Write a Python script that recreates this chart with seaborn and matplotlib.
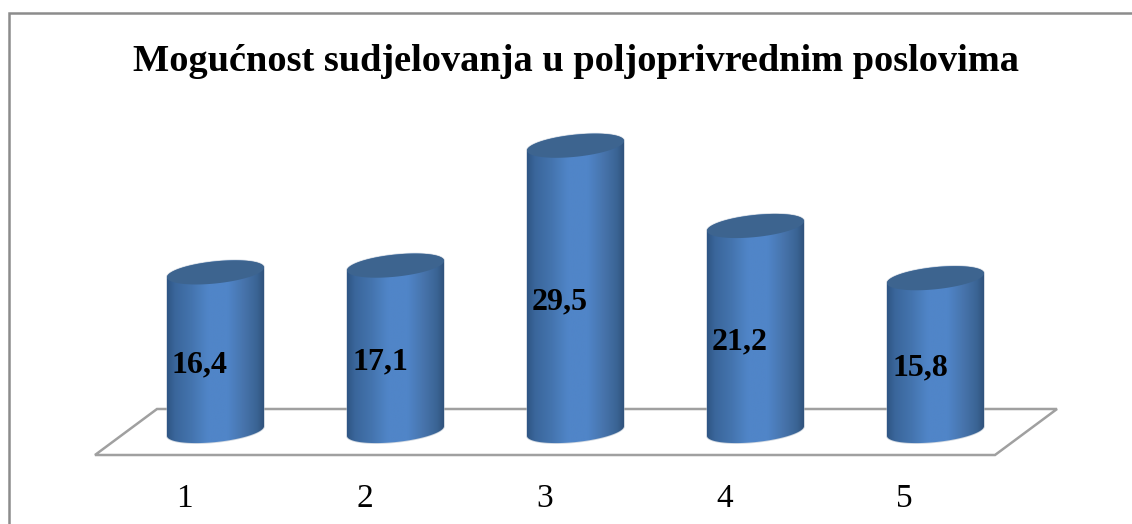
import numpy as np
import pandas as pd
import seaborn as sns
import matplotlib
matplotlib.use("Agg")
import matplotlib.pyplot as plt
from matplotlib.colors import LinearSegmentedColormap
from matplotlib.lines import Line2D
from matplotlib.patches import PathPatch, Rectangle, Polygon
from matplotlib.path import Path
from matplotlib.transforms import IdentityTransform, ScaledTranslation

categories = ["1", "2", "3", "4", "5"]
values = [16.4, 17.1, 29.5, 21.2, 15.8]
value_labels = ["16,4", "17,1", "29,5", "21,2", "15,8"]
title = "Mogućnost sudjelovanja u poljoprivrednim poslovima"

W, H = 1132, 524
sns.set_theme(style="white")
plt.rcParams["font.family"] = ["Liberation Serif", "DejaVu Serif"]

fig = plt.figure(figsize=(W / 100, H / 100), dpi=100, facecolor="white")
# axes box in pixels: x 95..1057, y 100..455 (from top)
ax = fig.add_axes([95 / W, (H - 455) / H, (1057 - 95) / W, 355 / H])
ax.patch.set_alpha(0)

df = pd.DataFrame({"category": categories, "value": values})
sns.barplot(data=df, x="category", y="value", order=categories, width=0.539,
            color="#4A7DBB", saturation=1, ax=ax, zorder=2)

px_per_unit = 9.67
ax.set_xlim(-(215.5 - 95) / 180, (1057 - 215.5) / 180)
ax.set_ylim(-24 / px_per_unit, (431 - 100) / px_per_unit)

for s in ax.spines.values():
    s.set_visible(False)
ax.set_ylabel("")
ax.set_xlabel("")
ax.set_yticks([])
ax.tick_params(axis="x", length=0, pad=20.5, labelsize=24, colors="black")
tick_shift = ScaledTranslation(-31 / 100, 0, fig.dpi_scale_trans)
for lab in ax.get_xticklabels():
    lab.set_transform(lab.get_transform() + tick_shift)
    lab.set_color("black")

# floor, as axes fractions
floor_h = (455 - 409) / 355
ax.add_patch(Polygon([(0, 0), (62 / 962, floor_h), (1, floor_h), (900 / 962, 0)],
                     closed=True, fill=False, edgecolor="#A0A0A0", linewidth=1.8,
                     transform=ax.transAxes, zorder=1, clip_on=False))

ax.set_title(title, fontsize=27.6, fontweight="bold", color="black", pad=21)

# outer frame: left and top edges only, running off the crop
fig.add_artist(Line2D([8.5 / W, 8.5 / W, 1.0], [0, (H - 13) / H, (H - 13) / H],
                      color="#8C8C8C", linewidth=1.8, transform=fig.transFigure,
                      solid_joinstyle="miter"))

cyl_cmap = LinearSegmentedColormap.from_list(
    "cyl", [(0.0, "#2E5584"), (0.08, "#3A669B"), (0.25, "#4474AE"), (0.42, "#5085C8"),
            (0.62, "#5085C8"), (0.80, "#4672A9"), (0.92, "#3A6494"), (1.0, "#2F5079")])
gradient = np.linspace(0, 1, 256).reshape(1, -1)
theta = np.deg2rad(6)
u = np.array([np.cos(theta), np.sin(theta)])
v = np.array([-np.sin(theta), np.cos(theta)])
minor = 11.0


def ellipse_pts(center, major, t):
    return center + np.outer(major * np.cos(t), u) + np.outer(minor * np.sin(t), v)


fig.canvas.draw()
xlim, ylim = ax.get_xlim(), ax.get_ylim()
for bar, text in zip(ax.patches, value_labels):
    if not isinstance(bar, Rectangle) or bar.get_height() <= 0:
        continue
    x0, w, h = bar.get_x(), bar.get_width(), bar.get_height()
    xc = x0 + w / 2
    p_top = ax.transData.transform((xc, h))
    p_bot = ax.transData.transform((xc, 0))
    pl = ax.transData.transform((x0, 0))
    pr = ax.transData.transform((x0 + w, 0))
    major = (pr[0] - pl[0]) / 2 / np.cos(theta)
    upper = ellipse_pts(p_top, major, np.linspace(0, np.pi, 80))
    lower = ellipse_pts(p_bot, major, np.linspace(np.pi, 2 * np.pi, 80))
    body = np.vstack([upper, lower, upper[:1]])
    body_path = Path(body, closed=True)
    bar.set_alpha(0)
    # soft outline
    ax.add_patch(PathPatch(body_path, transform=IdentityTransform(), facecolor="none",
                           edgecolor="#A9B6C6", linewidth=1.2, alpha=0.55, zorder=2.5))
    im = ax.imshow(gradient, extent=(x0, x0 + w, -3, h + 3), aspect="auto",
                   cmap=cyl_cmap, vmin=0, vmax=1, zorder=3, interpolation="bilinear")
    im.set_clip_path(body_path, IdentityTransform())
    cap = ellipse_pts(p_top, major, np.linspace(0, 2 * np.pi, 160))
    ax.add_patch(PathPatch(Path(cap, closed=True), transform=IdentityTransform(),
                           facecolor="#3D648F", edgecolor="none", zorder=4))
    ax.annotate(text, (xc, h / 2), xytext=(-15.5 * 0.72, -13.5 * 0.72),
                textcoords="offset points", ha="center", va="center",
                fontsize=23, fontweight="bold", color="black", zorder=5)
ax.set_xlim(xlim)
ax.set_ylim(ylim)

fig.savefig("out.png", dpi=100, facecolor="white")
